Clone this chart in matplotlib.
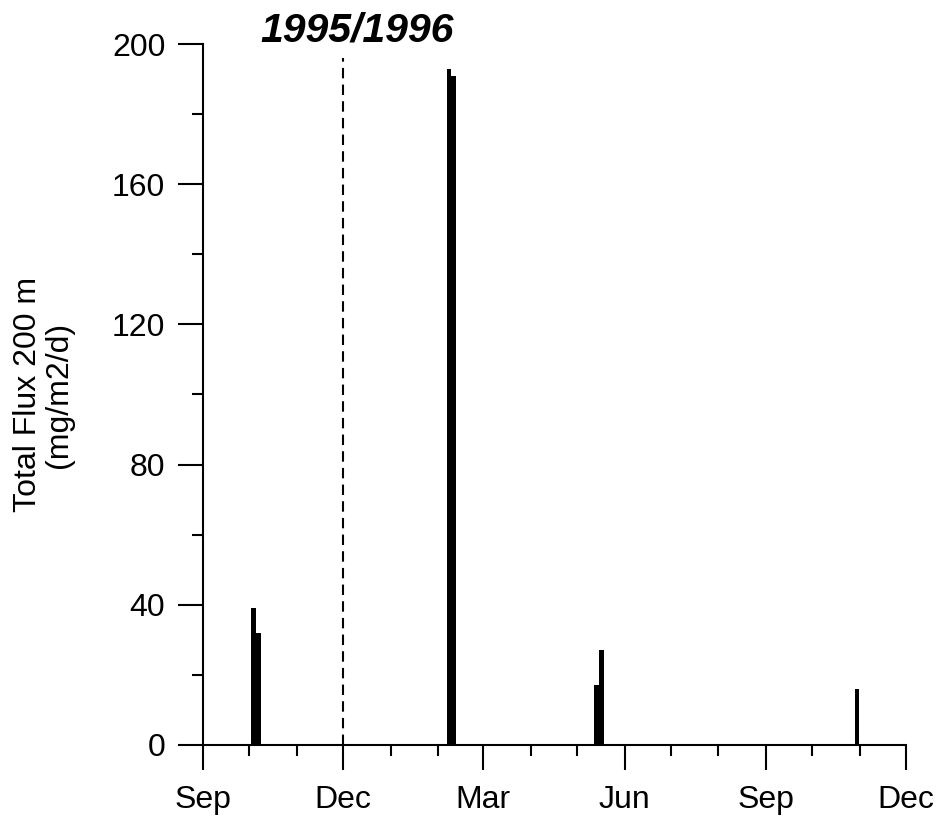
import matplotlib
matplotlib.use("Agg")
import matplotlib.pyplot as plt
import matplotlib.dates as mdates
from matplotlib.ticker import MultipleLocator
import datetime as dt

plt.rcParams['font.family'] = ['Liberation Sans', 'DejaVu Sans']

# Data: sample dates and total flux (mg/m2/d)
sample_dates = ["1995-10-04", "1995-10-07", "1996-02-08", "1996-02-11",
                "1996-05-14", "1996-05-17", "1996-10-30"]
flux_values = [39, 32, 193, 191, 17, 27, 16]
bar_width_days = 3

month_ticks = ["1995-09-01", "1995-12-01", "1996-03-01", "1996-06-01",
               "1996-09-01", "1996-12-01"]
month_labels = ["Sep", "Dec", "Mar", "Jun", "Sep", "Dec"]
divider_date = "1995-12-01"
title_text = "1995/1996"
ylabel_text = "Total Flux 200 m\n(mg/m2/d)"

to_dt = lambda s: dt.datetime.strptime(s, "%Y-%m-%d")

fig = plt.figure(figsize=(9.39, 8.24), dpi=100)
ax = fig.add_axes([0.216, 0.0959, 0.749, 0.8507])

xs = [mdates.date2num(to_dt(d)) for d in sample_dates]
ax.bar(xs, flux_values, width=bar_width_days, color='black', align='center')

xmin = mdates.date2num(to_dt(month_ticks[0]))
xmax = mdates.date2num(to_dt(month_ticks[-1]))
ax.set_xlim(xmin, xmax)
ax.set_ylim(0, 200)

# dashed separator
xd = mdates.date2num(to_dt(divider_date))
ax.plot([xd, xd], [0, 196], linestyle=(0, (5, 3)), color='black', lw=1.5)

ax.set_xticks([mdates.date2num(to_dt(d)) for d in month_ticks])
ax.set_xticklabels(month_labels)
ax.xaxis.set_minor_locator(mdates.MonthLocator())
ax.yaxis.set_major_locator(MultipleLocator(40))
ax.yaxis.set_minor_locator(MultipleLocator(20))

for s in ['top', 'right']:
    ax.spines[s].set_visible(False)
for s in ['left', 'bottom']:
    ax.spines[s].set_linewidth(1.5)

ax.tick_params(axis='both', which='major', direction='out', length=18, width=1.5,
               labelsize=23)
ax.tick_params(axis='both', which='minor', direction='out', length=8, width=1.5)
ax.tick_params(axis='x', which='major', pad=11)
ax.tick_params(axis='y', which='major', pad=9)

ax.set_ylabel(ylabel_text, fontsize=23, labelpad=27, linespacing=1.05)

ax.text(xd + 9, 203.8, title_text, fontsize=29.5, fontweight='bold', fontstyle='italic',
        ha='center', va='center', clip_on=False)

fig.savefig("out.png", dpi=100)
